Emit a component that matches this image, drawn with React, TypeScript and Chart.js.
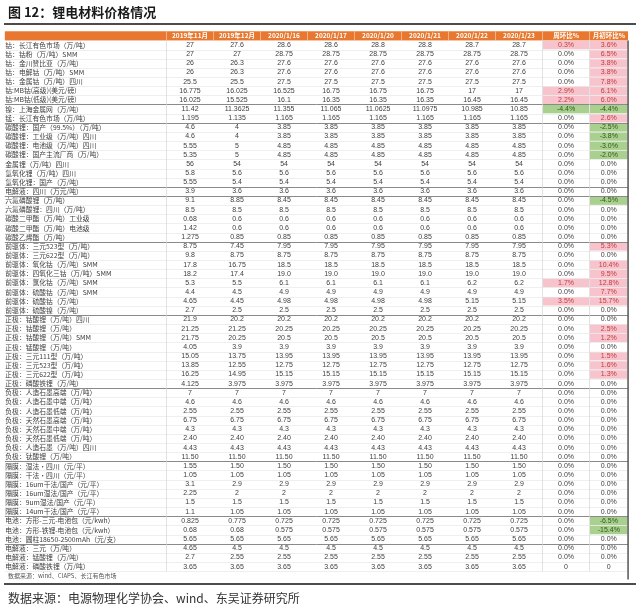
import React, { useEffect, useRef } from 'react';
import { Chart, registerables } from 'chart.js';

Chart.register(...registerables);

const titleText = '图 12：锂电材料价格情况';
const noteText = '数据来源：wind、CIAPS、长江有色市场';
const sourceText = '数据来源：电源物理化学协会、wind、东吴证券研究所';

const dateLabels = ['2019年11月', '2019年12月', '2020/1/16', '2020/1/17', '2020/1/20', '2020/1/21', '2020/1/22', '2020/1/23'];
const changeLabels = ['周环比%', '月初环比%'];

const categories = [
  '钴：长江有色市场（万/吨）',
  '钴：钴粉（万/吨）SMM',
  '钴：金川赞比亚（万/吨）',
  '钴：电解钴（万/吨）SMM',
  '钴：金属钴（万/吨）四川',
  '钴:MB钴(高级)(美元/磅)',
  '钴:MB钴(低级)(美元/磅)',
  '镍：上海金属网（万/吨）',
  '锰：长江有色市场（万/吨）',
  '碳酸锂：国产（99.5%）（万/吨）',
  '碳酸锂：工业级（万/吨）四川',
  '碳酸锂：电池级（万/吨）四川',
  '碳酸锂：国产主流厂商（万/吨）',
  '金属锂（万/吨）四川',
  '氢氧化锂（万/吨）四川',
  '氢氧化锂：国产（万/吨）',
  '电解液：四川（万元/吨）',
  '六氟磷酸锂（万/吨）',
  '六氟磷酸锂：四川（万/吨）',
  '碳酸二甲酯（万/吨）工业级',
  '碳酸二甲酯（万/吨）电池级',
  '碳酸乙烯酯（万/吨）',
  '前驱体：三元523型（万/吨）',
  '前驱体：三元622型（万/吨）',
  '前驱体：氧化钴（万/吨）SMM',
  '前驱体：四氧化三钴（万/吨）SMM',
  '前驱体：氯化钴（万/吨）SMM',
  '前驱体：硫酸钴（万/吨）SMM',
  '前驱体：硫酸钴（万/吨）',
  '前驱体：硫酸镍（万/吨）',
  '正极：钴酸锂（万/吨）四川',
  '正极：钴酸锂（万/吨）',
  '正极：钴酸锂（万/吨）SMM',
  '正极：锰酸锂（万/吨）',
  '正极：三元111型（万/吨）',
  '正极：三元523型（万/吨）',
  '正极：三元622型（万/吨）',
  '正极：磷酸铁锂（万/吨）',
  '负极：人造石墨高端（万/吨）',
  '负极：人造石墨中端（万/吨）',
  '负极：人造石墨低端（万/吨）',
  '负极：天然石墨高端（万/吨）',
  '负极：天然石墨中端（万/吨）',
  '负极：天然石墨低端（万/吨）',
  '负极：人造石墨（万/吨）四川',
  '负极：钛酸锂（万/吨）',
  '隔膜：湿法·四川（元/平）',
  '隔膜：干法·四川（元/平）',
  '隔膜：16um干法/国产（元/平）',
  '隔膜：16um湿法/国产（元/平）',
  '隔膜：9um湿法/国产（元/平）',
  '隔膜：14um干法/国产（元/平）',
  '电池：方形-三元-电池包（元/kwh）',
  '电池：方形-铁锂-电池包（元/kwh）',
  '电池：圆柱18650-2500mAh（元/支）',
  '电解液：三元（万/吨）',
  '电解液：锰酸锂（万/吨）',
  '电解液：磷酸铁锂（万/吨）',
];

const nov2019 = ['27', '27', '26', '26', '25.5', '16.775', '16.025', '11.42', '1.195', '4.6', '4.6', '5.55', '5.35', '56', '5.8', '5.55', '3.9', '9.1', '8.5', '0.68', '1.42', '1.275', '8.75', '9.8', '17.8', '18.2', '5.3', '4.4', '4.65', '2.7', '21.9', '21.25', '21.75', '4.05', '15.05', '13.85', '16.25', '4.125', '7', '4.6', '2.55', '6.75', '4.3', '2.40', '4.43', '11.50', '1.55', '1.05', '3.1', '2.25', '1.5', '1.1', '0.825', '0.68', '5.65', '4.65', '2.7', '3.65'];
const dec2019 = ['27.6', '27', '26.3', '26.3', '25.5', '16.025', '15.525', '11.3625', '1.135', '4', '4', '5', '5', '54', '5.6', '5.4', '3.6', '8.85', '8.5', '0.6', '0.6', '0.85', '7.45', '8.75', '16.75', '17.4', '5.5', '4.5', '4.45', '2.5', '20.2', '21.25', '20.25', '3.9', '13.75', '12.55', '14.95', '3.975', '7', '4.6', '2.55', '6.75', '4.3', '2.40', '4.43', '11.50', '1.50', '1.05', '2.9', '2', '1.5', '1.05', '0.775', '0.68', '5.65', '4.5', '2.55', '3.65'];
const jan16 = ['28.6', '28.75', '27.6', '27.6', '27.5', '16.525', '16.1', '11.355', '1.165', '3.85', '3.85', '4.85', '4.85', '54', '5.6', '5.4', '3.6', '8.45', '8.5', '0.6', '0.6', '0.85', '7.95', '8.75', '18.5', '19.0', '6.1', '4.9', '4.98', '2.5', '20.2', '20.25', '20.5', '3.9', '13.95', '12.75', '15.15', '3.975', '7', '4.6', '2.55', '6.75', '4.3', '2.40', '4.43', '11.50', '1.50', '1.05', '2.9', '2', '1.5', '1.05', '0.725', '0.575', '5.65', '4.5', '2.55', '3.65'];
const jan17 = ['28.6', '28.75', '27.6', '27.6', '27.5', '16.75', '16.35', '11.065', '1.165', '3.85', '3.85', '4.85', '4.85', '54', '5.6', '5.4', '3.6', '8.45', '8.5', '0.6', '0.6', '0.85', '7.95', '8.75', '18.5', '19.0', '6.1', '4.9', '4.98', '2.5', '20.2', '20.25', '20.5', '3.9', '13.95', '12.75', '15.15', '3.975', '7', '4.6', '2.55', '6.75', '4.3', '2.40', '4.43', '11.50', '1.50', '1.05', '2.9', '2', '1.5', '1.05', '0.725', '0.575', '5.65', '4.5', '2.55', '3.65'];
const jan20 = ['28.8', '28.75', '27.6', '27.6', '27.5', '16.75', '16.35', '11.0625', '1.165', '3.85', '3.85', '4.85', '4.85', '54', '5.6', '5.4', '3.6', '8.45', '8.5', '0.6', '0.6', '0.85', '7.95', '8.75', '18.5', '19.0', '6.1', '4.9', '4.98', '2.5', '20.2', '20.25', '20.5', '3.9', '13.95', '12.75', '15.15', '3.975', '7', '4.6', '2.55', '6.75', '4.3', '2.40', '4.43', '11.50', '1.50', '1.05', '2.9', '2', '1.5', '1.05', '0.725', '0.575', '5.65', '4.5', '2.55', '3.65'];
const jan21 = ['28.8', '28.75', '27.6', '27.6', '27.5', '16.75', '16.35', '11.0975', '1.165', '3.85', '3.85', '4.85', '4.85', '54', '5.6', '5.4', '3.6', '8.45', '8.5', '0.6', '0.6', '0.85', '7.95', '8.75', '18.5', '19.0', '6.1', '4.9', '4.98', '2.5', '20.2', '20.25', '20.5', '3.9', '13.95', '12.75', '15.15', '3.975', '7', '4.6', '2.55', '6.75', '4.3', '2.40', '4.43', '11.50', '1.50', '1.05', '2.9', '2', '1.5', '1.05', '0.725', '0.575', '5.65', '4.5', '2.55', '3.65'];
const jan22 = ['28.7', '28.75', '27.6', '27.6', '27.5', '17', '16.45', '10.985', '1.165', '3.85', '3.85', '4.85', '4.85', '54', '5.6', '5.4', '3.6', '8.45', '8.5', '0.6', '0.6', '0.85', '7.95', '8.75', '18.5', '19.0', '6.2', '4.9', '5.15', '2.5', '20.2', '20.25', '20.5', '3.9', '13.95', '12.75', '15.15', '3.975', '7', '4.6', '2.55', '6.75', '4.3', '2.40', '4.43', '11.50', '1.50', '1.05', '2.9', '2', '1.5', '1.05', '0.725', '0.575', '5.65', '4.5', '2.55', '3.65'];
const jan23 = ['28.7', '28.75', '27.6', '27.6', '27.5', '17', '16.45', '10.85', '1.165', '3.85', '3.85', '4.85', '4.85', '54', '5.6', '5.4', '3.6', '8.45', '8.5', '0.6', '0.6', '0.85', '7.95', '8.75', '18.5', '19.0', '6.2', '4.9', '5.15', '2.5', '20.2', '20.25', '20.5', '3.9', '13.95', '12.75', '15.15', '3.975', '7', '4.6', '2.55', '6.75', '4.3', '2.40', '4.43', '11.50', '1.50', '1.05', '2.9', '2', '1.5', '1.05', '0.725', '0.575', '5.65', '4.5', '2.55', '3.65'];
const weekChange = ['0.3%', '0.0%', '0.0%', '0.0%', '0.0%', '2.9%', '2.2%', '-4.4%', '0.0%', '0.0%', '0.0%', '0.0%', '0.0%', '0.0%', '0.0%', '0.0%', '0.0%', '0.0%', '0.0%', '0.0%', '0.0%', '0.0%', '0.0%', '0.0%', '0.0%', '0.0%', '1.7%', '0.0%', '3.5%', '0.0%', '0.0%', '0.0%', '0.0%', '0.0%', '0.0%', '0.0%', '0.0%', '0.0%', '0.0%', '0.0%', '0.0%', '0.0%', '0.0%', '0.0%', '0.0%', '0.0%', '0.0%', '0.0%', '0.0%', '0.0%', '0.0%', '0.0%', '0.0%', '0.0%', '0.0%', '0.0%', '0.0%', '0'];
const monthChange = ['3.6%', '6.5%', '3.8%', '3.8%', '7.8%', '6.1%', '6.0%', '-4.4%', '2.6%', '-2.5%', '-3.8%', '-3.0%', '-2.0%', '0.0%', '0.0%', '0.0%', '0.0%', '-4.5%', '0.0%', '0.0%', '0.0%', '0.0%', '5.3%', '0.0%', '10.4%', '9.5%', '12.8%', '7.7%', '15.7%', '0.0%', '0.0%', '2.5%', '1.2%', '0.0%', '1.5%', '1.6%', '1.3%', '0.0%', '0.0%', '0.0%', '0.0%', '0.0%', '0.0%', '0.0%', '0.0%', '0.0%', '0.0%', '0.0%', '0.0%', '0.0%', '0.0%', '0.0%', '-6.5%', '-15.4%', '0.0%', '0.0%', '0.0%', '0'];

// rows after which a darker group rule is drawn
const groupBreaks = [6, 8, 15, 16, 21, 29, 37, 45, 51, 54];

const columns = [nov2019, dec2019, jan16, jan17, jan20, jan21, jan22, jan23, weekChange, monthChange];
const headers = [...dateLabels, ...changeLabels];

// layout (column index space)
const COL_POS = [0, 1, 2, 3, 4, 5, 6, 7, 8, 8.91];
const LABEL_X = -3.93;
const TABLE_LEFT = -3.94;
const TABLE_RIGHT = 9.32;

const ORANGE = '#E8782F';
const PINK = '#F7C3CC';
const PINK_TEXT = '#C23B3B';
const GREEN = '#A9D08E';
const GREEN_TEXT = '#2E5A1C';
const TEXT = '#404040';
const CJK = '"Noto Sans CJK SC", "Noto Sans", sans-serif';
const NUM = '"Liberation Sans", Arial, sans-serif';

const tablePlugin = {
  id: 'tablePlugin',
  beforeDatasetsDraw(chart: any) {
    const { ctx } = chart;
    const xs = chart.scales.x;
    const ys = chart.scales.y;
    const px = (v: number) => xs.getPixelForValue(v);
    const py = (v: number) => ys.getPixelForValue(v);
    const W = chart.width;
    ctx.save();
    ctx.fillStyle = '#ffffff';
    ctx.fillRect(0, 0, W, chart.height);

    // title
    ctx.fillStyle = '#1a1a1a';
    ctx.font = `bold 13px ${CJK}`;
    ctx.textAlign = 'left';
    ctx.textBaseline = 'middle';
    ctx.fillText(titleText, 8, py(-3.58));
    ctx.strokeStyle = '#111';
    ctx.lineWidth = 1.6;
    ctx.beginPath();
    ctx.moveTo(4, py(-2.3));
    ctx.lineTo(W - 4, py(-2.3));
    ctx.stroke();

    // header band
    const hx0 = px(TABLE_LEFT);
    const hx1 = px(TABLE_RIGHT);
    ctx.fillStyle = ORANGE;
    ctx.fillRect(hx0, py(-1.5), hx1 - hx0, py(-0.5) - py(-1.5));
    ctx.strokeStyle = 'rgba(255,255,255,0.55)';
    ctx.lineWidth = 0.8;
    for (let c = 0; c <= 9; c++) {
      const ex = px(c - 0.5);
      ctx.beginPath();
      ctx.moveTo(ex, py(-1.5));
      ctx.lineTo(ex, py(-0.5));
      ctx.stroke();
    }

    // highlighted change cells
    const cellEdges = [
      [7.5, 8.5],
      [8.5, TABLE_RIGHT],
    ];
    [weekChange, monthChange].forEach((arr, k) => {
      arr.forEach((s, r) => {
        const v = parseFloat(s);
        if (!v) return;
        ctx.fillStyle = v > 0 ? PINK : GREEN;
        const x0 = px(cellEdges[k][0]) + 0.5;
        const x1 = px(cellEdges[k][1]) - 0.5;
        const y0 = py(r - 0.5) + 0.3;
        const y1 = py(r + 0.5) - 0.3;
        ctx.fillRect(x0, y0, x1 - x0, y1 - y0);
      });
    });

    // row rules
    for (let r = 0; r < categories.length; r++) {
      const yy = Math.round(py(r + 0.5)) + 0.5;
      const dark = groupBreaks.includes(r);
      ctx.strokeStyle = dark ? '#8a8a8a' : '#e4e4e4';
      ctx.lineWidth = dark ? 1 : 0.6;
      ctx.beginPath();
      ctx.moveTo(hx0, yy);
      ctx.lineTo(hx1, yy);
      ctx.stroke();
    }

    // vertical rules
    const top = py(-0.5);
    const bottom = py(categories.length - 0.5);
    ctx.strokeStyle = '#d6d6d6';
    ctx.lineWidth = 0.7;
    [-0.5, 7.5, 8.5].forEach((v) => {
      ctx.beginPath();
      ctx.moveTo(px(v), top);
      ctx.lineTo(px(v), bottom);
      ctx.stroke();
    });
    ctx.strokeStyle = '#555';
    ctx.lineWidth = 1.5;
    ctx.beginPath();
    ctx.moveTo(hx1, top);
    ctx.lineTo(hx1, py(categories.length + 0.4));
    ctx.stroke();

    // header text
    ctx.fillStyle = '#ffffff';
    ctx.font = `bold 6.5px ${CJK}`;
    ctx.textAlign = 'center';
    headers.forEach((h, c) => {
      ctx.fillText(h, px(COL_POS[c]), py(-1));
    });

    // footers
    ctx.fillStyle = '#555';
    ctx.font = `6px ${CJK}`;
    ctx.textAlign = 'left';
    ctx.fillText(noteText, 8, py(categories.length));
    ctx.strokeStyle = '#111';
    ctx.lineWidth = 1.6;
    ctx.beginPath();
    ctx.moveTo(4, py(categories.length + 0.9));
    ctx.lineTo(W - 4, py(categories.length + 0.9));
    ctx.stroke();
    ctx.fillStyle = '#333';
    ctx.font = `12px ${CJK}`;
    ctx.fillText(sourceText, 8, py(categories.length + 2.45));
    ctx.restore();
  },
  afterDatasetsDraw(chart: any) {
    const { ctx } = chart;
    ctx.save();
    ctx.textBaseline = 'middle';
    chart.data.datasets.forEach((ds: any, i: number) => {
      const meta = chart.getDatasetMeta(i);
      const isLabel = ds.cellKind === 'label';
      ctx.textAlign = isLabel ? 'left' : 'center';
      ctx.font = isLabel ? `6.8px ${CJK}` : `7px ${NUM}`;
      meta.data.forEach((el: any, r: number) => {
        const text = ds.texts[r];
        let color = TEXT;
        if (ds.cellKind === 'change') {
          const v = parseFloat(text);
          if (v > 0) color = PINK_TEXT;
          else if (v < 0) color = GREEN_TEXT;
        }
        ctx.fillStyle = color;
        ctx.fillText(text, el.x, el.y);
      });
    });
    ctx.restore();
  },
};

export default function App() {
  const ref = useRef<HTMLCanvasElement>(null);
  useEffect(() => {
    document.body.style.margin = '0';
    const canvas = ref.current;
    if (!canvas) return;
    const rowIdx = categories.map((_, r) => r);
    const datasets: any[] = [
      {
        type: 'scatter',
        cellKind: 'label',
        texts: categories,
        data: rowIdx.map((r) => ({ x: LABEL_X, y: r })),
        pointRadius: 0,
      },
      ...columns.map((col, c) => ({
        type: 'scatter',
        cellKind: c >= 8 ? 'change' : 'value',
        texts: col,
        data: rowIdx.map((r) => ({ x: COL_POS[c], y: r })),
        pointRadius: 0,
      })),
    ];
    const chart = new Chart(canvas, {
      type: 'scatter',
      data: { datasets },
      options: {
        animation: false,
        responsive: false,
        devicePixelRatio: 1,
        events: [],
        layout: { padding: 0 },
        plugins: { legend: { display: false }, tooltip: { enabled: false }, title: { display: false } },
        scales: {
          x: { type: 'linear', display: false, min: -4.043, max: 9.574 },
          y: { type: 'linear', display: false, reverse: true, min: -4.918, max: 61.2 },
        },
      },
      plugins: [tablePlugin],
    } as any);
    return () => chart.destroy();
  }, []);
  return (
    <div style={{ width: 640, height: 605, background: '#fff' }}>
      <canvas ref={ref} width={640} height={605} style={{ display: 'block' }} />
    </div>
  );
}
